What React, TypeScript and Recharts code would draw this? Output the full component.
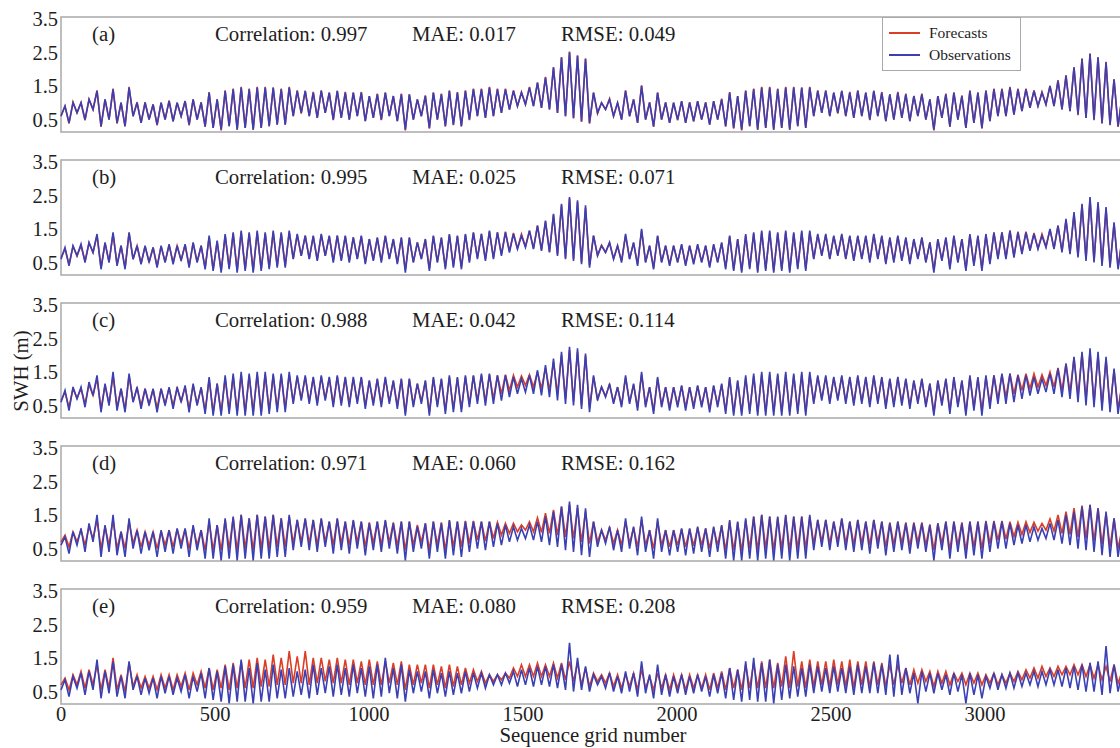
import { LineChart, Line, XAxis, YAxis, ReferenceArea } from "recharts";

// grid number spacing between consecutive readings
const STEP = 13;

const xTicks = [0, 500, 1000, 1500, 2000, 2500, 3000];
const yTicks = [0.5, 1.5, 2.5, 3.5];

const tags = ["(a)", "(b)", "(c)", "(d)", "(e)"];
const correlation = ["0.997", "0.995", "0.988", "0.971", "0.959"];
const mae = ["0.017", "0.025", "0.042", "0.060", "0.080"];
const rmse = ["0.049", "0.071", "0.114", "0.162", "0.208"];

const obsA = [
  0.6,0.9,0.4,1.0,0.7,1.0,0.5,1.1,0.8,1.35,
  0.3,1.1,0.5,1.4,0.4,1.0,0.3,1.45,0.6,1.0,
  0.4,1.0,0.5,0.95,0.35,1.0,0.5,1.05,0.45,1.0,
  0.6,1.05,0.35,1.1,0.5,1.0,0.3,1.3,0.25,1.1,
  0.2,1.35,0.3,1.4,0.2,1.45,0.25,1.4,0.2,1.45,
  0.25,1.45,0.3,1.45,0.35,1.4,0.35,1.45,0.6,1.35,
  0.7,1.35,0.6,1.3,0.55,1.35,0.7,1.3,0.5,1.35,
  0.55,1.3,0.5,1.3,0.6,1.3,0.45,1.2,0.55,1.25,
  0.5,1.3,0.6,1.2,0.45,1.25,0.2,1.25,0.5,1.1,
  0.6,1.2,0.25,1.3,0.5,1.25,0.3,1.35,0.35,1.3,
  0.3,1.35,0.5,1.4,0.6,1.4,0.55,1.45,0.6,1.4,
  0.7,1.4,0.8,1.35,0.9,1.3,0.95,1.45,0.9,1.6,
  0.85,1.75,0.8,2.05,0.7,2.35,0.6,2.5,0.55,2.4,
  0.45,2.3,0.4,1.3,0.7,1.0,0.8,1.1,0.6,1.0,
  0.5,1.35,0.6,1.1,0.4,1.5,0.5,1.0,0.3,1.3,
  0.5,1.0,0.4,1.0,0.5,1.05,0.4,1.0,0.45,1.05,
  0.5,1.0,0.35,1.05,0.5,1.1,0.3,1.3,0.25,1.2,
  0.2,1.35,0.3,1.4,0.2,1.45,0.25,1.45,0.2,1.4,
  0.25,1.45,0.2,1.45,0.3,1.45,0.25,1.45,0.6,1.35,
  0.7,1.35,0.6,1.3,0.7,1.35,0.6,1.3,0.55,1.35,
  0.6,1.3,0.5,1.35,0.6,1.3,0.45,1.25,0.5,1.3,
  0.55,1.25,0.45,1.2,0.6,1.25,0.5,1.1,0.2,1.2,
  0.55,1.25,0.3,1.3,0.5,1.2,0.25,1.35,0.4,1.3,
  0.25,1.35,0.45,1.4,0.6,1.4,0.6,1.45,0.65,1.4,
  0.75,1.4,0.85,1.35,0.9,1.3,0.95,1.5,0.9,1.65,
  0.8,1.8,0.75,2.05,0.65,2.3,0.55,2.45,0.5,2.35,
  0.4,2.2,0.35,1.7,0.3,1.2,
];

const fcA = [
  0.62,0.9,0.38,1.02,0.7,1.0,0.48,1.1,0.8,1.37,
  0.28,1.1,0.5,1.42,0.38,1.0,0.3,1.47,0.6,1.02,
  0.4,1.02,0.5,0.95,0.33,1.0,0.5,1.07,0.45,1.0,
  0.6,1.05,0.33,1.1,0.5,1.02,0.28,1.32,0.25,1.1,
  0.18,1.37,0.3,1.42,0.2,1.47,0.25,1.42,0.2,1.47,
  0.25,1.47,0.3,1.45,0.35,1.42,0.35,1.47,0.6,1.37,
  0.68,1.35,0.6,1.32,0.55,1.37,0.7,1.3,0.48,1.35,
  0.55,1.32,0.5,1.3,0.6,1.32,0.45,1.2,0.55,1.27,
  0.48,1.3,0.6,1.2,0.45,1.27,0.18,1.25,0.5,1.1,
  0.6,1.22,0.23,1.3,0.5,1.27,0.3,1.37,0.33,1.32,
  0.3,1.37,0.48,1.42,0.6,1.42,0.55,1.47,0.6,1.42,
  0.7,1.42,0.8,1.37,0.9,1.32,0.95,1.47,0.9,1.6,
  0.85,1.77,0.8,2.05,0.7,2.35,0.6,2.52,0.53,2.4,
  0.43,2.32,0.38,1.3,0.68,1.0,0.8,1.12,0.6,1.0,
  0.5,1.37,0.6,1.1,0.4,1.52,0.5,1.02,0.28,1.3,
  0.5,1.02,0.4,1.0,0.48,1.05,0.4,1.02,0.45,1.05,
  0.5,1.02,0.35,1.05,0.5,1.12,0.3,1.32,0.23,1.2,
  0.18,1.37,0.3,1.42,0.2,1.47,0.25,1.47,0.2,1.42,
  0.25,1.47,0.2,1.47,0.3,1.45,0.25,1.47,0.6,1.37,
  0.7,1.37,0.6,1.3,0.68,1.35,0.6,1.32,0.55,1.37,
  0.6,1.3,0.48,1.35,0.6,1.32,0.45,1.25,0.5,1.32,
  0.55,1.27,0.45,1.2,0.6,1.27,0.5,1.1,0.18,1.2,
  0.55,1.27,0.28,1.3,0.5,1.22,0.25,1.37,0.4,1.3,
  0.23,1.37,0.45,1.42,0.6,1.42,0.6,1.47,0.65,1.42,
  0.75,1.42,0.85,1.37,0.9,1.32,0.95,1.5,0.9,1.67,
  0.8,1.82,0.75,2.05,0.63,2.32,0.55,2.47,0.48,2.35,
  0.38,2.22,0.33,1.7,0.28,1.2,
];

const obsB = [
  0.6,0.95,0.4,1.0,0.7,1.05,0.5,1.1,0.8,1.35,
  0.3,1.1,0.5,1.4,0.4,1.0,0.3,1.4,0.6,1.0,
  0.45,1.0,0.5,0.95,0.35,1.0,0.5,1.05,0.45,1.0,
  0.55,1.05,0.35,1.1,0.5,1.0,0.3,1.3,0.25,1.15,
  0.2,1.35,0.3,1.4,0.2,1.45,0.25,1.4,0.2,1.45,
  0.25,1.4,0.3,1.45,0.35,1.4,0.35,1.45,0.6,1.35,
  0.7,1.3,0.6,1.3,0.55,1.35,0.7,1.3,0.5,1.3,
  0.55,1.3,0.5,1.25,0.6,1.3,0.45,1.2,0.55,1.25,
  0.5,1.3,0.6,1.2,0.45,1.25,0.2,1.25,0.5,1.1,
  0.6,1.2,0.25,1.3,0.5,1.25,0.3,1.35,0.35,1.3,
  0.3,1.35,0.5,1.4,0.6,1.35,0.55,1.45,0.6,1.4,
  0.7,1.4,0.8,1.35,0.9,1.3,0.95,1.45,0.9,1.6,
  0.85,1.75,0.8,1.95,0.7,2.25,0.6,2.45,0.55,2.35,
  0.45,2.2,0.35,1.3,0.7,1.0,0.8,1.1,0.6,1.0,
  0.5,1.35,0.6,1.1,0.4,1.5,0.5,1.0,0.3,1.3,
  0.5,1.0,0.4,1.0,0.5,1.05,0.4,1.0,0.45,1.05,
  0.5,1.0,0.35,1.05,0.5,1.1,0.3,1.3,0.25,1.2,
  0.2,1.35,0.3,1.4,0.2,1.45,0.25,1.45,0.2,1.4,
  0.25,1.45,0.2,1.4,0.3,1.45,0.25,1.45,0.6,1.35,
  0.7,1.35,0.6,1.3,0.7,1.35,0.6,1.3,0.55,1.3,
  0.6,1.3,0.5,1.35,0.6,1.3,0.45,1.25,0.5,1.3,
  0.55,1.25,0.45,1.2,0.6,1.25,0.5,1.1,0.2,1.2,
  0.55,1.25,0.3,1.3,0.5,1.2,0.25,1.35,0.4,1.3,
  0.25,1.35,0.45,1.4,0.6,1.4,0.6,1.45,0.65,1.4,
  0.75,1.4,0.85,1.35,0.9,1.3,0.95,1.5,0.9,1.6,
  0.8,1.8,0.75,2.0,0.65,2.25,0.55,2.45,0.5,2.3,
  0.4,2.15,0.35,1.7,0.3,1.2,
];

const fcB = [
  0.65,0.9,0.45,0.98,0.7,1.0,0.55,1.08,0.8,1.3,
  0.35,1.08,0.52,1.35,0.45,1.0,0.35,1.38,0.6,1.0,
  0.48,0.98,0.52,0.95,0.4,0.98,0.52,1.02,0.5,1.0,
  0.58,1.02,0.4,1.08,0.52,1.0,0.35,1.25,0.3,1.12,
  0.26,1.3,0.35,1.36,0.26,1.4,0.3,1.36,0.26,1.4,
  0.3,1.36,0.35,1.4,0.4,1.36,0.4,1.4,0.62,1.32,
  0.7,1.3,0.62,1.28,0.58,1.32,0.7,1.28,0.55,1.3,
  0.58,1.28,0.55,1.25,0.62,1.28,0.5,1.2,0.58,1.22,
  0.55,1.28,0.62,1.18,0.5,1.22,0.28,1.22,0.52,1.1,
  0.62,1.18,0.32,1.28,0.52,1.22,0.36,1.32,0.4,1.28,
  0.36,1.32,0.55,1.38,0.65,1.35,0.6,1.42,0.65,1.4,
  0.75,1.42,0.85,1.38,0.92,1.35,0.98,1.45,0.92,1.6,
  0.88,1.72,0.82,1.92,0.74,2.2,0.64,2.4,0.6,2.3,
  0.5,2.12,0.42,1.3,0.72,1.02,0.8,1.08,0.62,1.0,
  0.55,1.3,0.62,1.08,0.45,1.45,0.52,1.0,0.35,1.28,
  0.52,1.0,0.45,1.0,0.52,1.02,0.45,1.0,0.5,1.02,
  0.52,1.0,0.4,1.02,0.52,1.08,0.36,1.28,0.3,1.2,
  0.26,1.3,0.35,1.36,0.26,1.4,0.3,1.4,0.26,1.36,
  0.3,1.4,0.26,1.36,0.35,1.4,0.3,1.4,0.62,1.32,
  0.72,1.32,0.62,1.28,0.72,1.32,0.62,1.28,0.58,1.28,
  0.62,1.28,0.55,1.32,0.62,1.28,0.5,1.22,0.55,1.28,
  0.58,1.22,0.5,1.18,0.62,1.22,0.52,1.1,0.28,1.18,
  0.58,1.22,0.36,1.28,0.52,1.2,0.3,1.32,0.45,1.28,
  0.32,1.32,0.5,1.38,0.65,1.4,0.65,1.45,0.7,1.42,
  0.8,1.42,0.88,1.38,0.92,1.35,0.98,1.48,0.92,1.6,
  0.84,1.75,0.78,1.95,0.7,2.2,0.6,2.4,0.55,2.25,
  0.45,2.1,0.4,1.65,0.36,1.2,
];

const obsC = [
  0.6,0.95,0.35,1.05,0.7,1.05,0.45,1.2,0.8,1.4,
  0.3,1.15,0.5,1.5,0.35,1.0,0.3,1.45,0.6,1.05,
  0.4,1.0,0.5,1.0,0.3,1.0,0.5,1.05,0.4,1.05,
  0.6,1.1,0.3,1.15,0.5,1.05,0.25,1.35,0.2,1.15,
  0.2,1.4,0.25,1.45,0.2,1.5,0.2,1.45,0.2,1.5,
  0.2,1.5,0.25,1.45,0.3,1.45,0.3,1.5,0.55,1.4,
  0.65,1.4,0.55,1.35,0.5,1.4,0.65,1.35,0.45,1.4,
  0.5,1.35,0.45,1.35,0.55,1.35,0.4,1.25,0.5,1.3,
  0.45,1.35,0.55,1.25,0.4,1.3,0.2,1.3,0.45,1.15,
  0.55,1.25,0.2,1.35,0.45,1.3,0.25,1.4,0.3,1.35,
  0.3,1.4,0.45,1.4,0.55,1.45,0.5,1.45,0.55,1.4,
  0.65,1.4,0.75,1.35,0.85,1.3,0.9,1.4,0.85,1.55,
  0.8,1.7,0.75,1.9,0.65,2.1,0.55,2.25,0.5,2.2,
  0.4,2.05,0.3,1.4,0.65,1.05,0.75,1.15,0.55,1.05,
  0.45,1.4,0.55,1.15,0.35,1.5,0.45,1.05,0.25,1.35,
  0.45,1.05,0.35,1.05,0.45,1.1,0.35,1.05,0.4,1.1,
  0.45,1.05,0.3,1.1,0.45,1.15,0.25,1.35,0.2,1.25,
  0.2,1.4,0.25,1.45,0.2,1.5,0.2,1.5,0.2,1.45,
  0.2,1.5,0.2,1.45,0.25,1.5,0.2,1.5,0.55,1.4,
  0.65,1.4,0.55,1.35,0.65,1.4,0.55,1.35,0.5,1.4,
  0.55,1.35,0.45,1.4,0.55,1.35,0.4,1.3,0.45,1.35,
  0.5,1.3,0.4,1.25,0.55,1.3,0.45,1.15,0.2,1.25,
  0.5,1.3,0.25,1.35,0.45,1.25,0.2,1.4,0.35,1.35,
  0.2,1.4,0.4,1.4,0.55,1.45,0.55,1.45,0.6,1.4,
  0.7,1.4,0.8,1.35,0.85,1.3,0.9,1.45,0.85,1.6,
  0.75,1.75,0.7,1.95,0.6,2.1,0.5,2.2,0.45,2.1,
  0.35,1.95,0.3,1.6,0.25,1.15,
];

const fcC = [
  0.65,0.9,0.45,1.0,0.72,1.0,0.55,1.12,0.8,1.3,
  0.4,1.1,0.55,1.38,0.45,1.0,0.38,1.38,0.62,1.02,
  0.5,1.0,0.55,0.98,0.42,1.0,0.55,1.02,0.5,1.02,
  0.62,1.05,0.4,1.1,0.55,1.02,0.35,1.28,0.3,1.15,
  0.3,1.32,0.35,1.38,0.3,1.42,0.3,1.4,0.3,1.42,
  0.3,1.42,0.35,1.4,0.4,1.4,0.4,1.42,0.6,1.35,
  0.7,1.35,0.62,1.32,0.58,1.35,0.7,1.32,0.55,1.35,
  0.58,1.32,0.55,1.3,0.62,1.32,0.5,1.22,0.58,1.28,
  0.55,1.3,0.62,1.22,0.5,1.28,0.3,1.28,0.52,1.15,
  0.62,1.22,0.3,1.3,0.52,1.28,0.35,1.35,0.4,1.32,
  0.4,1.35,0.55,1.38,0.65,1.4,0.62,1.42,0.7,1.4,
  0.85,1.42,0.95,1.4,1.05,1.38,1.1,1.42,1.05,1.5,
  1.0,1.62,0.95,1.8,0.85,2.0,0.7,2.15,0.62,2.1,
  0.5,1.98,0.45,1.35,0.7,1.05,0.78,1.12,0.6,1.05,
  0.52,1.32,0.6,1.12,0.45,1.42,0.52,1.05,0.35,1.3,
  0.52,1.05,0.45,1.05,0.52,1.08,0.45,1.05,0.5,1.08,
  0.52,1.05,0.4,1.08,0.52,1.12,0.35,1.3,0.3,1.22,
  0.3,1.32,0.35,1.38,0.3,1.42,0.3,1.42,0.3,1.4,
  0.3,1.42,0.3,1.4,0.35,1.42,0.3,1.42,0.6,1.35,
  0.7,1.35,0.62,1.32,0.7,1.35,0.62,1.32,0.58,1.35,
  0.62,1.32,0.55,1.35,0.62,1.32,0.5,1.28,0.55,1.32,
  0.58,1.28,0.5,1.22,0.62,1.28,0.52,1.15,0.3,1.22,
  0.58,1.28,0.35,1.3,0.52,1.22,0.3,1.35,0.45,1.32,
  0.35,1.35,0.55,1.4,0.7,1.42,0.75,1.45,0.85,1.42,
  0.95,1.45,1.0,1.45,1.05,1.42,1.1,1.5,1.05,1.62,
  0.95,1.75,0.9,1.92,0.8,2.05,0.7,2.1,0.6,2.0,
  0.5,1.88,0.45,1.55,0.4,1.15,
];

const obsD = [
  0.6,0.85,0.35,1.0,0.6,1.1,0.4,1.25,0.7,1.5,
  0.25,1.2,0.4,1.5,0.3,1.0,0.25,1.4,0.5,1.05,
  0.35,1.0,0.45,1.0,0.25,1.05,0.4,1.05,0.35,1.1,
  0.5,1.1,0.25,1.2,0.45,1.05,0.2,1.4,0.2,1.2,
  0.15,1.4,0.2,1.45,0.15,1.5,0.2,1.4,0.15,1.5,
  0.2,1.45,0.2,1.5,0.25,1.4,0.25,1.5,0.45,1.35,
  0.55,1.4,0.45,1.35,0.4,1.4,0.55,1.3,0.35,1.4,
  0.45,1.3,0.35,1.35,0.5,1.3,0.3,1.25,0.45,1.3,
  0.4,1.35,0.5,1.25,0.35,1.3,0.15,1.3,0.4,1.15,
  0.5,1.25,0.2,1.3,0.4,1.25,0.2,1.35,0.3,1.3,
  0.25,1.3,0.4,1.3,0.5,1.3,0.45,1.3,0.55,1.25,
  0.6,1.2,0.7,1.15,0.75,1.1,0.8,1.2,0.75,1.3,
  0.7,1.45,0.6,1.6,0.55,1.75,0.45,1.9,0.4,1.8,
  0.3,1.7,0.25,1.3,0.55,1.05,0.65,1.15,0.45,1.05,
  0.4,1.4,0.5,1.15,0.3,1.45,0.4,1.05,0.2,1.4,
  0.4,1.05,0.3,1.05,0.4,1.1,0.3,1.1,0.35,1.15,
  0.4,1.1,0.25,1.15,0.4,1.2,0.2,1.35,0.15,1.3,
  0.15,1.4,0.2,1.45,0.15,1.5,0.2,1.45,0.15,1.45,
  0.2,1.5,0.15,1.45,0.2,1.45,0.2,1.5,0.45,1.35,
  0.55,1.35,0.45,1.3,0.55,1.4,0.45,1.3,0.4,1.35,
  0.45,1.3,0.35,1.35,0.5,1.3,0.3,1.25,0.4,1.3,
  0.45,1.25,0.35,1.25,0.5,1.25,0.4,1.2,0.15,1.25,
  0.45,1.3,0.2,1.3,0.4,1.25,0.2,1.3,0.3,1.3,
  0.2,1.3,0.4,1.3,0.5,1.3,0.5,1.25,0.6,1.2,
  0.65,1.2,0.7,1.15,0.75,1.1,0.8,1.25,0.75,1.35,
  0.65,1.5,0.6,1.6,0.5,1.75,0.45,1.8,0.4,1.7,
  0.3,1.6,0.25,1.4,0.25,1.1,
];

const fcD = [
  0.7,0.9,0.55,1.0,0.7,1.05,0.6,1.15,0.8,1.35,
  0.5,1.15,0.6,1.35,0.5,1.0,0.5,1.3,0.65,1.05,
  0.55,1.0,0.6,1.0,0.5,1.02,0.6,1.05,0.55,1.08,
  0.65,1.08,0.5,1.15,0.6,1.05,0.45,1.3,0.45,1.2,
  0.45,1.35,0.5,1.42,0.45,1.5,0.5,1.4,0.45,1.5,
  0.5,1.45,0.5,1.5,0.55,1.4,0.55,1.45,0.65,1.35,
  0.7,1.38,0.65,1.35,0.6,1.38,0.7,1.3,0.6,1.38,
  0.65,1.3,0.6,1.32,0.68,1.3,0.55,1.28,0.65,1.3,
  0.6,1.32,0.68,1.28,0.58,1.3,0.45,1.3,0.6,1.2,
  0.68,1.25,0.45,1.3,0.6,1.28,0.45,1.32,0.55,1.3,
  0.55,1.32,0.65,1.32,0.75,1.3,0.72,1.3,0.8,1.28,
  0.9,1.25,0.95,1.25,1.0,1.2,1.05,1.3,1.0,1.42,
  0.98,1.55,0.95,1.65,0.9,1.75,0.85,1.8,0.8,1.7,
  0.7,1.6,0.65,1.3,0.7,1.05,0.75,1.12,0.65,1.05,
  0.6,1.3,0.65,1.12,0.55,1.35,0.6,1.05,0.5,1.3,
  0.6,1.05,0.55,1.05,0.6,1.08,0.55,1.08,0.58,1.12,
  0.6,1.1,0.5,1.12,0.6,1.18,0.45,1.3,0.45,1.28,
  0.42,1.35,0.5,1.45,0.45,1.5,0.5,1.45,0.45,1.42,
  0.5,1.48,0.45,1.45,0.5,1.45,0.5,1.45,0.65,1.35,
  0.7,1.35,0.65,1.3,0.7,1.38,0.65,1.3,0.62,1.35,
  0.65,1.3,0.6,1.35,0.68,1.3,0.55,1.28,0.62,1.3,
  0.65,1.28,0.58,1.28,0.68,1.28,0.6,1.22,0.45,1.25,
  0.65,1.3,0.45,1.3,0.6,1.28,0.45,1.3,0.55,1.3,
  0.5,1.32,0.65,1.32,0.75,1.32,0.78,1.3,0.85,1.28,
  0.92,1.3,0.98,1.28,1.02,1.25,1.05,1.38,1.02,1.5,
  0.95,1.6,0.92,1.7,0.85,1.78,0.8,1.8,0.72,1.7,
  0.62,1.55,0.55,1.4,0.5,1.1,
];

const obsE = [
  0.55,0.85,0.35,0.95,0.6,1.05,0.4,1.1,0.55,1.45,
  0.3,1.1,0.45,1.4,0.35,0.95,0.3,1.4,0.55,0.95,
  0.4,0.9,0.45,0.9,0.3,0.95,0.45,0.95,0.4,0.9,
  0.5,1.0,0.3,0.95,0.5,1.05,0.3,1.2,0.25,1.1,
  0.2,1.25,0.15,1.3,0.2,1.45,0.2,1.2,0.15,1.35,
  0.2,1.15,0.2,1.3,0.3,1.15,0.3,1.2,0.35,1.1,
  0.4,1.15,0.3,1.3,0.4,1.2,0.45,1.25,0.35,1.3,
  0.4,1.2,0.35,1.3,0.45,1.2,0.35,1.25,0.3,1.3,
  0.35,1.5,0.45,1.2,0.3,1.3,0.2,1.15,0.45,1.1,
  0.5,1.1,0.3,1.15,0.45,1.05,0.35,1.1,0.4,1.05,
  0.45,1.1,0.5,1.05,0.6,1.05,0.6,1.0,0.7,1.0,
  0.7,1.05,0.75,1.1,0.65,1.15,0.7,1.2,0.65,1.25,
  0.7,1.25,0.65,1.3,0.6,1.3,0.55,1.95,0.5,1.5,
  0.55,1.25,0.5,1.0,0.7,0.95,0.6,1.05,0.5,0.95,
  0.45,1.1,0.5,1.05,0.35,1.4,0.45,1.0,0.3,1.3,
  0.4,1.0,0.35,0.95,0.45,1.0,0.4,0.95,0.45,1.0,
  0.5,0.95,0.35,1.0,0.45,1.05,0.3,1.2,0.25,1.15,
  0.2,1.4,0.25,1.5,0.2,1.35,0.2,1.45,0.15,1.3,
  0.25,1.3,0.3,1.25,0.35,1.2,0.35,1.3,0.45,1.25,
  0.5,1.2,0.45,1.25,0.5,1.2,0.45,1.25,0.4,1.3,
  0.45,1.25,0.45,1.35,0.45,1.3,0.4,1.6,0.35,1.6,
  0.4,1.2,0.45,1.05,0.15,1.1,0.5,1.05,0.45,1.05,
  0.55,1.0,0.4,1.05,0.5,1.0,0.15,1.05,0.4,1.0,
  0.3,0.95,0.6,1.05,0.55,1.0,0.6,1.05,0.6,1.05,
  0.65,1.05,0.7,1.1,0.65,1.1,0.7,1.15,0.7,1.15,
  0.65,1.2,0.6,1.25,0.55,1.3,0.5,1.35,0.5,1.4,
  0.4,1.85,0.45,1.3,0.5,1.05,
];

const fcE = [
  0.7,0.9,0.55,1.0,0.7,1.1,0.6,1.15,0.7,1.3,
  0.55,1.15,0.6,1.5,0.55,1.0,0.5,1.35,0.65,1.0,
  0.6,0.95,0.6,0.95,0.55,1.0,0.6,1.0,0.55,1.0,
  0.65,1.05,0.55,1.05,0.7,1.1,0.6,1.2,0.55,1.15,
  0.6,1.3,0.55,1.35,0.6,1.4,0.6,1.45,0.6,1.5,
  0.65,1.45,0.65,1.6,0.7,1.5,0.7,1.7,0.75,1.55,
  0.75,1.7,0.7,1.5,0.75,1.5,0.8,1.45,0.75,1.5,
  0.75,1.45,0.7,1.45,0.75,1.4,0.7,1.45,0.7,1.4,
  0.7,1.4,0.75,1.35,0.7,1.4,0.55,1.3,0.7,1.3,
  0.75,1.3,0.6,1.3,0.7,1.25,0.6,1.3,0.65,1.25,
  0.7,1.2,0.75,1.15,0.8,1.1,0.75,1.0,0.8,1.0,
  0.85,1.05,0.9,1.2,0.95,1.3,0.95,1.3,0.95,1.35,
  0.95,1.3,0.95,1.35,0.9,1.35,0.85,1.4,0.8,1.35,
  0.7,1.2,0.65,1.05,0.8,1.0,0.75,1.05,0.65,1.0,
  0.6,1.0,0.65,1.05,0.55,1.15,0.6,0.95,0.55,1.05,
  0.6,1.0,0.55,1.0,0.6,1.0,0.55,1.0,0.6,1.0,
  0.6,1.0,0.55,1.05,0.6,1.1,0.55,1.2,0.6,1.15,
  0.55,1.3,0.6,1.35,0.6,1.4,0.6,1.45,0.6,1.35,
  0.65,1.55,0.6,1.7,0.65,1.4,0.6,1.45,0.65,1.4,
  0.7,1.4,0.65,1.45,0.7,1.4,0.65,1.45,0.6,1.4,
  0.7,1.4,0.65,1.4,0.7,1.35,0.65,1.3,0.7,1.3,
  0.75,1.2,0.7,1.15,0.75,1.15,0.8,1.1,0.65,1.1,
  0.75,1.1,0.7,1.05,0.8,1.05,0.7,1.05,0.75,1.05,
  0.7,1.0,0.75,1.05,0.7,1.0,0.75,1.05,0.8,1.1,
  0.85,1.15,0.9,1.2,0.9,1.25,0.95,1.2,0.95,1.25,
  1.0,1.25,1.0,1.3,1.0,1.3,0.95,1.3,0.9,1.3,
  0.85,1.25,0.8,1.3,0.75,1.1,
];

const observations = [obsA, obsB, obsC, obsD, obsE];
const forecasts = [fcA, fcB, fcC, fcD, fcE];

const RED = "#dc3d25";
const BLUE = "#3a40b4";
const FONT = '"Liberation Serif", "Times New Roman", serif';
const FRAME = "#a9a9a9";
const PANEL_GAP = 143;

const textStyle = {
  position: "absolute" as const,
  fontFamily: FONT,
  fontSize: 20.8,
  lineHeight: "20px",
  color: "#1e1e1e",
  whiteSpace: "nowrap" as const,
};

function LegendBox() {
  const items = [
    { label: "Forecasts", color: RED },
    { label: "Observations", color: BLUE },
  ];
  return (
    <div
      style={{
        position: "absolute",
        left: 882,
        top: 17,
        width: 137,
        height: 52,
        background: "#fff",
        border: `1px solid ${FRAME}`,
        fontFamily: FONT,
        fontSize: 15.5,
        color: "#1e1e1e",
      }}
    >
      {items.map((it, i) => (
        <div key={it.label} style={{ position: "absolute", left: 6, top: 5 + i * 22, height: 20, display: "flex", alignItems: "center" }}>
          <span style={{ display: "inline-block", width: 31, height: 1.5, background: it.color, marginRight: 9 }} />
          <span>{it.label}</span>
        </div>
      ))}
    </div>
  );
}

function Panel({ index }: { index: number }) {
  const last = index === 4;
  const obs = observations[index];
  const fc = forecasts[index];
  const rows = obs.map((v, i) => ({ n: i * STEP, obs: v, fc: fc[i] }));
  return (
    <div style={{ position: "absolute", left: 0, top: index * PANEL_GAP }}>
      <LineChart
        width={1145}
        height={last ? 188 : 143}
        data={rows}
        margin={{ top: 17, right: 6, bottom: last ? 0 : 11, left: 0 }}
      >
        <XAxis
          dataKey="n"
          type="number"
          domain={[0, 3500]}
          ticks={xTicks}
          hide={!last}
          height={56}
          axisLine={false}
          tickLine={false}
          tickSize={1}
          tickMargin={1}
          tick={{ fontFamily: FONT, fontSize: 20.5, fill: "#1e1e1e" }}
        />
        <YAxis
          type="number"
          domain={[0.13, 3.55]}
          ticks={yTicks}
          width={61}
          axisLine={false}
          tickLine={false}
          tickSize={1}
          tickMargin={2}
          tick={{ fontFamily: FONT, fontSize: 20.5, fill: "#1e1e1e" }}
          tickFormatter={(v: number) => v.toFixed(1)}
        />
        <ReferenceArea x1={0} x2={3500} y1={0.13} y2={3.55} fill="none" stroke={FRAME} strokeWidth={1.5} />
        <Line
          type="linear"
          dataKey="fc"
          name="Forecasts"
          stroke={RED}
          strokeWidth={1.6}
          dot={false}
          isAnimationActive={false}
        />
        <Line
          type="linear"
          dataKey="obs"
          name="Observations"
          stroke={BLUE}
          strokeWidth={1.6}
          dot={false}
          isAnimationActive={false}
        />
      </LineChart>
      <div style={{ ...textStyle, left: 92, top: 24 }}>{tags[index]}</div>
      <div style={{ ...textStyle, left: 215, top: 24 }}>Correlation: {correlation[index]}</div>
      <div style={{ ...textStyle, left: 412, top: 24 }}>MAE: {mae[index]}</div>
      <div style={{ ...textStyle, left: 561, top: 24 }}>RMSE: {rmse[index]}</div>
    </div>
  );
}

export default function App() {
  return (
    <div
      style={{
        position: "fixed",
        left: 0,
        top: 0,
        width: 1120,
        height: 748,
        overflow: "hidden",
        background: "#fff",
      }}
    >
      {[0, 1, 2, 3, 4].map((i) => (
        <Panel key={i} index={i} />
      ))}
      <LegendBox />
      <div
        style={{
          ...textStyle,
          left: 21,
          top: 371,
          transform: "translate(-50%, -50%) rotate(-90deg)",
        }}
      >
        SWH (m)
      </div>
      <div
        style={{
          ...textStyle,
          lineHeight: "14px",
          left: 593,
          top: 728,
          transform: "translateX(-50%)",
        }}
      >
        Sequence grid number
      </div>
    </div>
  );
}
